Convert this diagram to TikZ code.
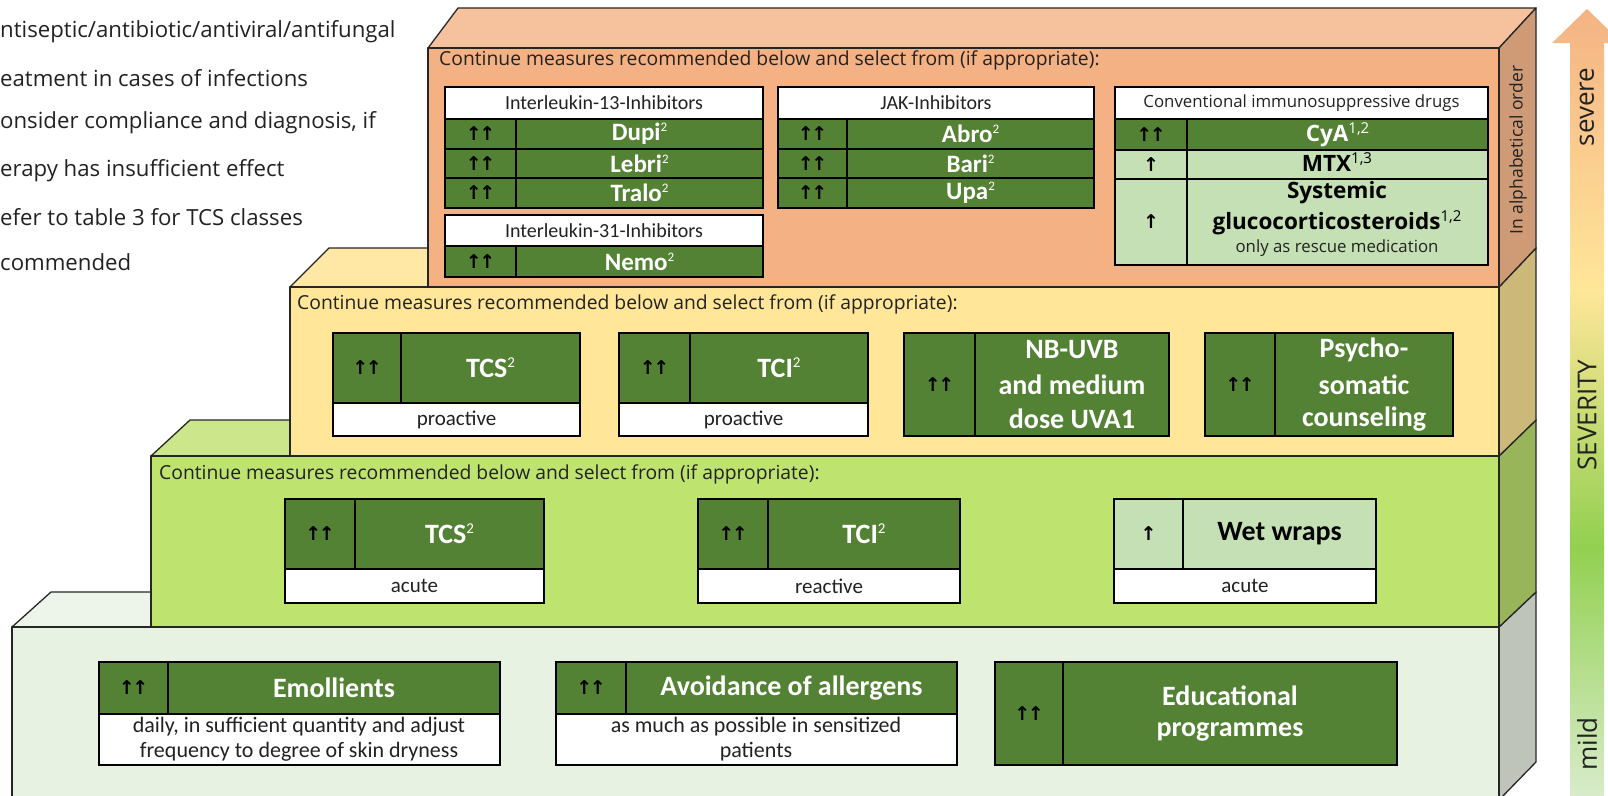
\documentclass[tikz,border=0pt]{standalone}
\usepackage{fontspec}
\setmainfont{Carlito}
\newfontfamily\seg{Open Sans}
\newfontfamily\sym{DejaVu Sans}
\newcommand\fsz[1]{\fontsize{#1}{#1}\selectfont}
\newcommand\sps[2][13]{\raisebox{0.36em}{\fsz{#1}\mdseries #2}}
\newcommand\uu{↑\kern-2.5pt↑}
\newcommand\cellbox[7]{\node[#6, minimum width={(#4-#2)*1pt}, minimum height={(#5-#3)*1pt}] (#1) at ({(#2+#4)/2},{(#3+#5)/2}) {#7};}
\definecolor{dg}{HTML}{548235}
\definecolor{lg}{HTML}{C5E0B4}
\definecolor{txt}{HTML}{222222}
\definecolor{orF}{HTML}{F4B183}
\definecolor{orT}{HTML}{F6C29E}
\definecolor{orS}{HTML}{CF9B76}
\definecolor{yeF}{HTML}{FFE699}
\definecolor{yeT}{HTML}{FFE8A6}
\definecolor{yeS}{HTML}{CCB97A}
\definecolor{grF}{HTML}{BEE36E}
\definecolor{grT}{HTML}{CCE68C}
\definecolor{grS}{HTML}{99B55A}
\definecolor{liF}{HTML}{E8F2E3}
\definecolor{liT}{HTML}{EDF5EA}
\definecolor{liS}{HTML}{BEC4B9}
\definecolor{arA}{HTML}{F4B183}
\definecolor{arB}{HTML}{FFE699}
\definecolor{arC}{HTML}{92D050}
\definecolor{arD}{HTML}{D9ECCC}
\tikzset{
  layer/.style={draw=black!85, line width=1.3pt, line join=round},
  cell/.style={draw=black, line width=1.3pt, inner sep=0pt, outer sep=0pt, anchor=center, align=center},
  dcell/.style={cell, fill=dg, text=white, font=\bfseries\fsz{25}},
  bigcell/.style={cell, fill=dg, text=white, font=\bfseries\fsz{28}},
  acell/.style={cell, fill=dg, text=black, font=\sym\bfseries\fsz{19}},
  lacell/.style={cell, fill=lg, text=black, font=\sym\bfseries\fsz{19}},
  wcell/.style={cell, fill=white, text=txt, font=\fsz{20}},
  conttext/.style={anchor=west, inner sep=0pt, text=txt, font=\seg\fsz{19.3}},
  lefttext/.style={anchor=west, inner sep=0pt, text=txt, font=\seg\fsz{22.2}},
  arrtext/.style={rotate=90, inner sep=0pt, text=txt, font=\seg\fsz{26}},
  desc/.style={inner sep=0pt, text=txt, font=\fsz{22}}
}
\begin{document}
\begin{tikzpicture}[x=1pt, y=-1pt]
\useasboundingbox (0,0) rectangle (1608,795);
\clip (0,0) rectangle (1608,795);

% ---------- left footnote text ----------
\node[lefttext] (f1) at (0,32) {ntiseptic/antibiotic/antiviral/antifungal};
\node[lefttext] (f2) at (0,78) {eatment in cases of infections};
\node[lefttext] (f3) at (0,123) {onsider compliance and diagnosis, if};
\node[lefttext] (f4) at (0,171) {erapy has insufficient effect};
\node[lefttext] (f5) at (0,217) {efer to table 3 for TCS classes};
\node[lefttext] (f6) at (0,262) {commended};

% ---------- layer 1 (mild) ----------
\fill[liF] (12,627) rectangle (1499,800);
\draw[layer, fill=liT] (12,627) -- (51,592) -- (1536,592) -- (1499,627) -- cycle;
\draw[layer, fill=liS] (1499,627) -- (1536,592) -- (1536,762) -- (1499,800) -- cycle;
\draw[layer] (12,800) -- (12,627) -- (1499,627) -- (1499,800);

% ---------- layer 2 ----------
\draw[layer, fill=grT] (151,456) -- (190,420) -- (1536,420) -- (1499,456) -- cycle;
\draw[layer, fill=grS] (1499,456) -- (1536,420) -- (1536,592) -- (1499,627) -- cycle;
\draw[layer, fill=grF] (151,456) rectangle (1499,627);

% ---------- layer 3 ----------
\draw[layer, fill=yeT] (290,287) -- (329,248) -- (1536,248) -- (1499,287) -- cycle;
\draw[layer, fill=yeS] (1499,287) -- (1536,248) -- (1536,420) -- (1499,456) -- cycle;
\draw[layer, fill=yeF] (290,287) rectangle (1499,456);

% ---------- layer 4 (severe) ----------
\draw[layer, fill=orT] (428,48) -- (458,8) -- (1536,8) -- (1499,48) -- cycle;
\draw[layer, fill=orS] (1499,48) -- (1536,8) -- (1536,248) -- (1499,287) -- cycle;
\draw[layer, fill=orF] (428,48) rectangle (1499,287);
\node[rotate=90, inner sep=0pt, text=txt, font=\seg\fsz{17.5}] (alpha) at (1518,150) {In alphabetical order};

% ---------- severity arrow ----------
\begin{scope}
\clip (1570,800) -- (1570,43) -- (1552,43) -- (1587,9) -- (1622,43) -- (1604,43) -- (1604,800) -- cycle;
\shade[top color=arA, bottom color=arB] (1540,0) rectangle (1630,290);
\shade[top color=arB, bottom color=arC] (1540,289) rectangle (1630,548);
\shade[top color=arC, bottom color=arD] (1540,547) rectangle (1630,800);
\end{scope}
\node[arrtext] (severe) at (1587,107) {severe};
\node[arrtext] (severity) at (1587,415) {SEVERITY};
\node[arrtext] (mild) at (1587,744) {mild};

% ---------- layer 4 content ----------
\node[conttext] (c4) at (439,60) {Continue measures recommended below and select from (if appropriate):};
% IL-13
\cellbox{il13h}{445}{87}{763}{119}{wcell}{Interleukin-13-Inhibitors}
\cellbox{il13a1}{445}{119}{516}{149}{acell}{\uu}
\cellbox{il13b1}{516}{119}{763}{149}{dcell}{Dupi\sps{2}}
\cellbox{il13a2}{445}{149}{516}{178}{acell}{\uu}
\cellbox{il13b2}{516}{149}{763}{178}{dcell}{Lebri\sps{2}}
\cellbox{il13a3}{445}{178}{516}{208}{acell}{\uu}
\cellbox{il13b3}{516}{178}{763}{208}{dcell}{Tralo\sps{2}}
% IL-31
\cellbox{il31h}{445}{215}{763}{246}{wcell}{Interleukin-31-Inhibitors}
\cellbox{il31a1}{445}{246}{516}{277}{acell}{\uu}
\cellbox{il31b1}{516}{246}{763}{277}{dcell}{Nemo\sps{2}}
% JAK
\cellbox{jakh}{778}{87}{1094}{119}{wcell}{JAK-Inhibitors}
\cellbox{jaka1}{778}{119}{847}{149}{acell}{\uu}
\cellbox{jakb1}{847}{119}{1094}{149}{dcell}{Abro\sps{2}}
\cellbox{jaka2}{778}{149}{847}{178}{acell}{\uu}
\cellbox{jakb2}{847}{149}{1094}{178}{dcell}{Bari\sps{2}}
\cellbox{jaka3}{778}{178}{847}{208}{acell}{\uu}
\cellbox{jakb3}{847}{178}{1094}{208}{dcell}{Upa\sps{2}}
% Conventional
\cellbox{convh}{1115}{87}{1488}{119}{cell, fill=white, text=txt, font=\seg\fsz{16.8}}{Conventional immunosuppressive drugs}
\cellbox{conva1}{1115}{119}{1187}{150}{acell}{\uu}
\cellbox{convb1}{1187}{119}{1488}{150}{cell, fill=dg, text=white, font=\seg\bfseries\fsz{22.5}}{CyA\sps[15]{1,2}}
\cellbox{conva2}{1115}{150}{1187}{179}{lacell}{↑}
\cellbox{convb2}{1187}{150}{1488}{179}{cell, fill=lg}{}
\node[inner sep=0pt, font=\seg\bfseries\fsz{22.5}] (mtx) at (1337,162) {MTX\sps[15]{1,3}};
\cellbox{conva3}{1115}{179}{1187}{265}{lacell}{↑}
\cellbox{convb3}{1187}{179}{1488}{265}{cell, fill=lg}{}
\node[inner sep=0pt, font=\seg\bfseries\fsz{22.5}] (sys1) at (1337,193) {Systemic};
\node[inner sep=0pt, font=\seg\bfseries\fsz{22.5}] (sys2) at (1337,223) {glucocorticosteroids\sps[15]{1,2}};
\node[inner sep=0pt, text=txt, font=\seg\fsz{16.8}] (sys3) at (1337,248) {only as rescue medication};

% ---------- layer 3 content ----------
\node[conttext] (c3) at (297,304) {Continue measures recommended below and select from (if appropriate):};
\cellbox{tcs3a}{333}{333}{401}{403}{acell}{\uu}
\cellbox{tcs3b}{401}{333}{580}{403}{bigcell}{TCS\sps[15]{2}}
\cellbox{tcs3c}{333}{403}{580}{436}{wcell, font=\fsz{21}}{proactive}
\cellbox{tci3a}{619}{333}{690}{403}{acell}{\uu}
\cellbox{tci3b}{690}{333}{868}{403}{bigcell}{TCI\sps[15]{2}}
\cellbox{tci3c}{619}{403}{868}{436}{wcell, font=\fsz{21}}{proactive}
\cellbox{uva}{904}{333}{975}{436}{acell}{\uu}
\cellbox{uvb}{975}{333}{1169}{436}{bigcell}{}
\node[inner sep=0pt, text=white, font=\bfseries\fsz{28}] (uv1) at (1072,350) {NB-UVB};
\node[inner sep=0pt, text=white, font=\bfseries\fsz{28}] (uv2) at (1072,385) {and medium};
\node[inner sep=0pt, text=white, font=\bfseries\fsz{28}] (uv3) at (1072,419) {dose UVA1};
\cellbox{psa}{1205}{333}{1275}{436}{acell}{\uu}
\cellbox{psb}{1275}{333}{1453}{436}{bigcell}{}
\node[inner sep=0pt, text=white, font=\bfseries\fsz{28}] (ps1) at (1364,350) {Psycho-};
\node[inner sep=0pt, text=white, font=\bfseries\fsz{28}] (ps2) at (1364,385) {somatic};
\node[inner sep=0pt, text=white, font=\bfseries\fsz{28}] (ps3) at (1364,419) {counseling};

% ---------- layer 2 content ----------
\node[conttext] (c2) at (159,474) {Continue measures recommended below and select from (if appropriate):};
\cellbox{tcs2a}{285}{499}{355}{569}{acell}{\uu}
\cellbox{tcs2b}{355}{499}{544}{569}{bigcell}{TCS\sps[15]{2}}
\cellbox{tcs2c}{285}{569}{544}{603}{wcell, font=\fsz{21}}{acute}
\cellbox{tci2a}{698}{499}{768}{569}{acell}{\uu}
\cellbox{tci2b}{768}{499}{960}{569}{bigcell}{TCI\sps[15]{2}}
\cellbox{tci2c}{698}{569}{960}{603}{wcell, font=\fsz{21}}{reactive}
\cellbox{wwa}{1114}{499}{1183}{569}{lacell}{↑}
\cellbox{wwb}{1183}{499}{1376}{569}{cell, fill=lg, text=black, font=\bfseries\fsz{28}}{Wet wraps}
\cellbox{wwc}{1114}{569}{1376}{603}{wcell, font=\fsz{21}}{acute}

% ---------- layer 1 content ----------
\cellbox{ema}{99}{662}{168}{714}{acell}{\uu}
\cellbox{emb}{168}{662}{500}{714}{bigcell}{Emollients}
\cellbox{emc}{99}{714}{500}{765}{wcell}{}
\node[desc] (em1) at (299,727) {daily, in sufficient quantity and adjust};
\node[desc] (em2) at (299,752) {frequency to degree of skin dryness};
\cellbox{ava}{556}{662}{626}{714}{acell}{\uu}
\cellbox{avb}{626}{662}{957}{714}{bigcell}{Avoidance of allergens}
\cellbox{avc}{556}{714}{957}{765}{wcell}{}
\node[desc] (av1) at (756,727) {as much as possible in sensitized};
\node[desc] (av2) at (756,752) {patients};
\cellbox{eda}{995}{662}{1063}{765}{acell}{\uu}
\cellbox{edb}{1063}{662}{1397}{765}{bigcell}{}
\node[inner sep=0pt, text=white, font=\bfseries\fsz{28}] (ed1) at (1230,696) {Educational};
\node[inner sep=0pt, text=white, font=\bfseries\fsz{28}] (ed2) at (1230,732) {programmes};
\end{tikzpicture}
\end{document}
